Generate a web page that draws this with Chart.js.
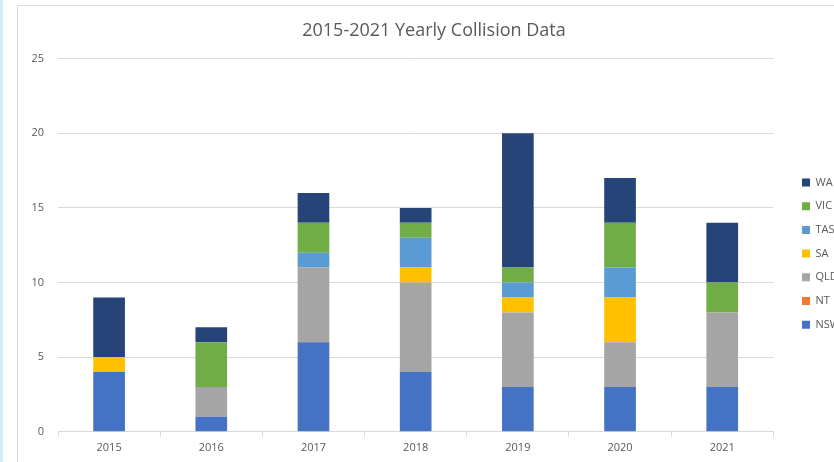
<!DOCTYPE html>
<html>
<head>
<meta charset="utf-8">
<script src="https://cdn.jsdelivr.net/npm/chart.js@4"></script>
<style>
  html, body { margin: 0; padding: 0; background: #fff; overflow: hidden; }
  body { width: 834px; height: 462px; position: relative; }
  #edge { position: absolute; left: 0; top: 0; width: 3px; height: 462px; background: #cdeefb; }
  #box { position: absolute; left: 17px; top: 5px; border-left: 1px solid #d9d9d9; border-top: 1px solid #d9d9d9; }
  #wrap { width: 832px; height: 456px; }
</style>
</head>
<body>
<div id="edge"></div>
<div id="box"><div id="wrap"><canvas id="chart"></canvas></div></div>
<script>
// years on the x axis
const years = ['2015', '2016', '2017', '2018', '2019', '2020', '2021'];

// collisions per state, per year
const nsw = [4, 1, 6, 4, 3, 3, 3];
const nt  = [0, 0, 0, 0, 0, 0, 0];
const qld = [0, 2, 5, 6, 5, 3, 5];
const sa  = [1, 0, 0, 1, 1, 3, 0];
const tas = [0, 0, 1, 2, 1, 2, 0];
const vic = [0, 3, 2, 1, 1, 3, 2];
const wa  = [4, 1, 2, 1, 9, 3, 4];

const textColor = '#595959';
const gridColor = '#d9d9d9';
const font = 'Open Sans, Noto Sans, sans-serif';

const ctx = document.getElementById('chart').getContext('2d');
new Chart(ctx, {
  type: 'bar',
  data: {
    labels: years,
    datasets: [
      { label: 'NSW', data: nsw, backgroundColor: '#4472c4' },
      { label: 'NT',  data: nt,  backgroundColor: '#ed7d31' },
      { label: 'QLD', data: qld, backgroundColor: '#a5a5a5' },
      { label: 'SA',  data: sa,  backgroundColor: '#ffc000' },
      { label: 'TAS', data: tas, backgroundColor: '#5b9bd5' },
      { label: 'VIC', data: vic, backgroundColor: '#70ad47' },
      { label: 'WA',  data: wa,  backgroundColor: '#264478' }
    ]
  },
  options: {
    responsive: true,
    maintainAspectRatio: false,
    animation: false,
    datasets: { bar: { categoryPercentage: 1, barPercentage: 0.31 } },
    layout: { padding: { left: 0, right: 0, top: 0, bottom: 4 } },
    plugins: {
      title: {
        display: true,
        text: '2015-2021 Yearly Collision Data',
        color: textColor,
        font: { family: font, size: 18, weight: 'normal' },
        padding: { top: 14, bottom: 17 }
      },
      legend: {
        position: 'right',
        reverse: true,
        // empty title just pushes the items down a bit
        title: { display: true, text: '', font: { size: 11 }, padding: { top: 0, bottom: 30 } },
        labels: {
          color: textColor,
          font: { family: font, size: 11 },
          boxWidth: 8,
          boxHeight: 8,
          padding: 12.7
        }
      },
      tooltip: { enabled: false }
    },
    scales: {
      x: {
        stacked: true,
        grid: { display: true, drawOnChartArea: false, drawTicks: true, tickLength: 5, color: gridColor },
        border: { display: true, color: gridColor },
        ticks: { color: textColor, font: { family: font, size: 11 }, padding: 4 }
      },
      y: {
        stacked: true,
        min: 0,
        max: 25,
        afterFit: s => { s.width = 40; },
        grid: { color: gridColor, drawTicks: false },
        border: { display: false },
        ticks: { stepSize: 5, color: textColor, font: { family: font, size: 11 }, padding: 14 }
      },
      // blank axis, only keeps a gap between the plot and the legend
      gap: {
        position: 'right',
        display: true,
        afterFit: s => { s.width = 16; },
        grid: { display: false },
        border: { display: false },
        ticks: { display: false }
      }
    }
  }
});
</script>
</body>
</html>
